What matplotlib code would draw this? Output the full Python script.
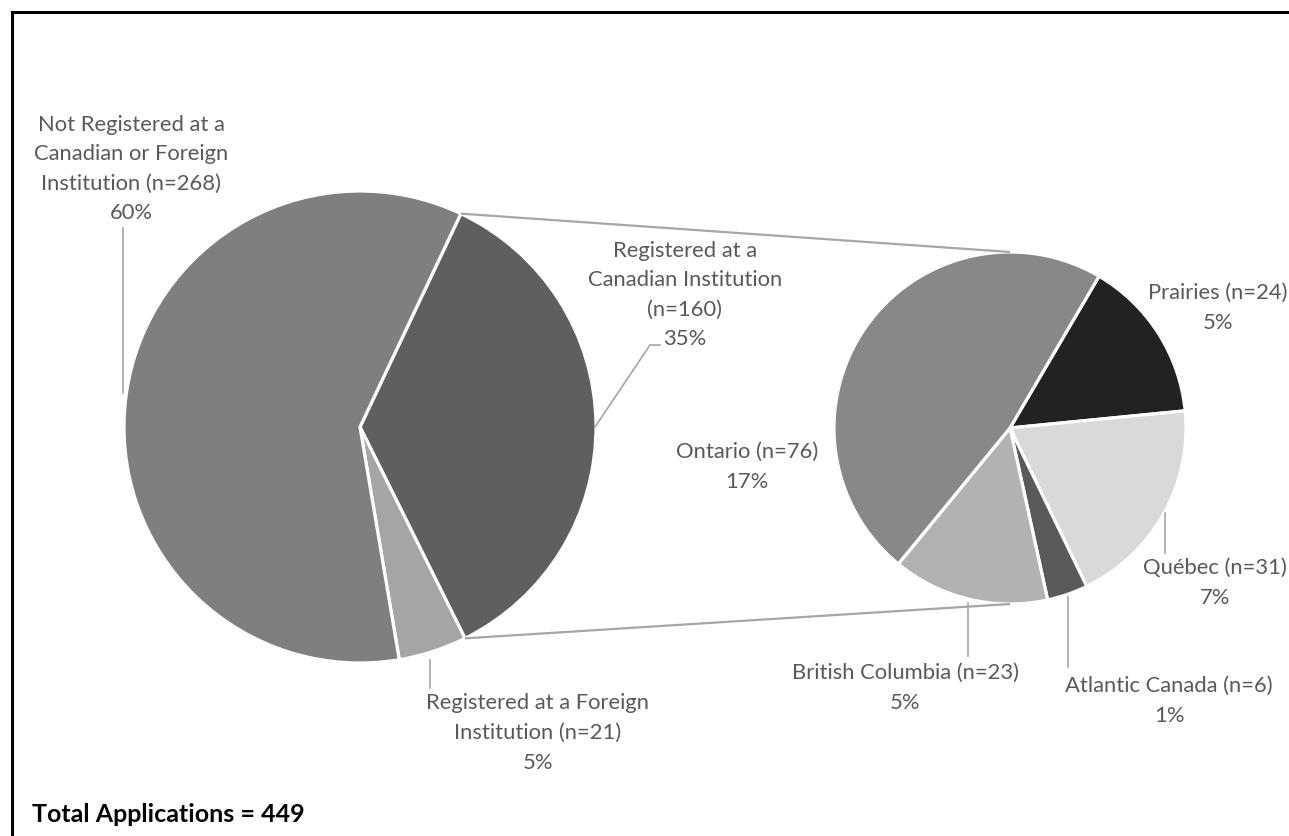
import numpy as np
import matplotlib.pyplot as plt
from matplotlib.lines import Line2D

W, H = 1289, 836

# outer pie: applications by registration status
outer_labels = ['Registered at a\nCanadian Institution\n(n=160)\n35%',
                'Registered at a Foreign\nInstitution (n=21)\n5%',
                'Not Registered at a\nCanadian or Foreign\nInstitution (n=268)\n60%']
outer_counts = [160, 21, 268]
outer_colors = ['#5f5f5f', '#a5a5a5', '#7f7f7f']

# inner pie: Canadian institutions by region
region_labels = ['Prairies (n=24)\n5%', 'Québec (n=31)\n7%', 'Atlantic Canada (n=6)\n1%',
                 'British Columbia (n=23)\n5%', 'Ontario (n=76)\n17%']
region_counts = [24, 31, 6, 23, 76]
region_colors = ['#222222', '#d9d9d9', '#5a5a5a', '#b2b2b2', '#888888']

total = 449

plt.rcParams['font.family'] = ['Lato', 'DejaVu Sans']
fig = plt.figure(figsize=(W / 100, H / 100), dpi=100)
ax = fig.add_axes([0, 0, 1, 1])


def Y(y):
    # pixel row -> data y
    return H - y


c1, r1 = (360, Y(427)), 236
c2, r2 = (1010, Y(428)), 176
wp = dict(edgecolor='white', linewidth=2.3)

w1, _ = ax.pie(outer_counts, colors=outer_colors, startangle=64.7, counterclock=False,
               center=c1, radius=r1, wedgeprops=wp, frame=True)
w2, _ = ax.pie(region_counts, colors=region_colors, startangle=59.6, counterclock=False,
               center=c2, radius=r2, wedgeprops=wp, frame=True)
ax.set_xlim(0, W)
ax.set_ylim(0, H)
ax.set_aspect('equal')
ax.axis('off')

# connector lines between the Canadian slice and the second pie
line_col = '#a6a6a6'
for ang, ty in [(w1[0].theta2, c2[1] + r2), (w1[0].theta1, c2[1] - r2)]:
    a = np.deg2rad(ang)
    ax.plot([c1[0] + r1 * np.cos(a), c2[0]], [c1[1] + r1 * np.sin(a), ty],
            color=line_col, lw=1.6, solid_capstyle='butt')

txt = dict(color='#595959', fontsize=15.8, ha='center', va='center', linespacing=1.6)

# outer labels
ax.text(685, Y(295), outer_labels[0], **txt)
ax.plot([660, 650, 595], [Y(345), Y(345), Y(427)], color=line_col, lw=1.2)
ax.text(538, Y(733), outer_labels[1], **txt)
ax.plot([430, 430], [Y(660), Y(688)], color=line_col, lw=1.2)
ax.text(131, Y(169), outer_labels[2], **txt)
ax.plot([123, 123], [Y(228), Y(393)], color=line_col, lw=1.2)

# region labels
ax.text(1218, Y(308), region_labels[0], **txt)
ax.text(1215, Y(583), region_labels[1], **txt)
ax.plot([1165, 1165], [Y(513), Y(553)], color=line_col, lw=1.2)
ax.text(1169, Y(701), region_labels[2], **txt)
ax.plot([1068, 1068], [Y(597), Y(667)], color=line_col, lw=1.2)
ax.text(905, Y(688), region_labels[3], **txt)
ax.plot([968, 968], [Y(603), Y(656)], color=line_col, lw=1.2)
ax.text(747, Y(467), region_labels[4], **txt)

ax.text(32, Y(814), 'Total Applications = %d' % total, fontsize=18, fontweight='bold',
        color='black', ha='left', va='center')

# open frame on top and left
fig.add_artist(Line2D([12 / W, 1], [1 - 12 / H, 1 - 12 / H], color='black', lw=2.2))
fig.add_artist(Line2D([12 / W, 12 / W], [0, 1 - 12 / H], color='black', lw=2.2))

fig.savefig('out.png', dpi=100, facecolor='white')
